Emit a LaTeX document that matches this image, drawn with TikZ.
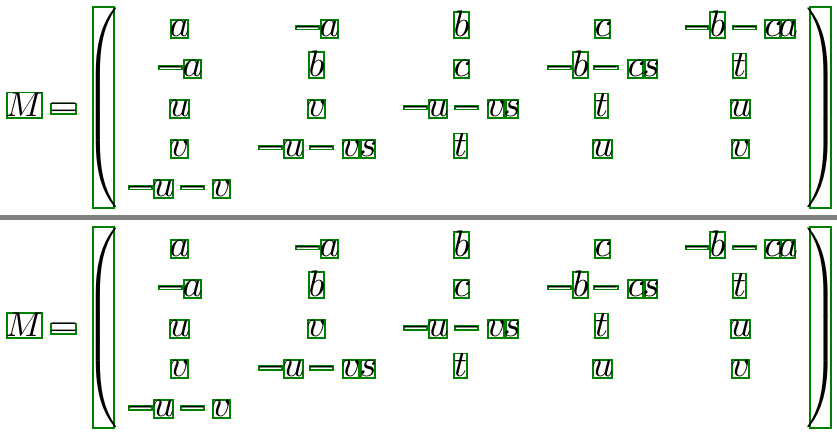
\documentclass[tikz,border=0pt]{standalone}
\usepackage{graphicx}
\definecolor{boxgreen}{RGB}{0,128,0}
\tikzset{
  gbox/.style={draw=boxgreen, line width=1.7pt, inner sep=0pt, outer sep=0pt},
  glyph/.style={inner sep=0pt, outer sep=0pt},
}
\newcommand\sg[1]{\scalebox{3.7}{$#1$}}
% name, x1, x2, top offset, bottom offset (from baseline \rb), glyph
\newcommand\gl[6]{%
  \node[gbox, minimum width={(#3-#2-1.7)*1pt}, minimum height={(#5-#4-1.7)*1pt}]
    (\p#1) at ({(#2+#3)/2},{\rb+(#4+#5)/2}) {};
  \node[glyph, anchor=base] (\p#1t) at ({(#2+#3)/2},{\rb}) {\sg{#6}};}
\newcommand\Lx[4]{\gl{#1}{#2}{#3}{-17.4}{2}{#4}}
\newcommand\Lb[4]{\gl{#1}{#2}{#3}{-25.4}{2}{#4}}
\newcommand\Lt[4]{\gl{#1}{#2}{#3}{-24}{2}{#4}}
\newcommand\Lm[3]{\gl{#1}{#2}{#3}{-11.7}{-6.2}{-}}
\newcommand\matbody{%
  \def\rb{116.7}
  \node[gbox, minimum width=35.3pt, minimum height=25.3pt] (\p M) at (24.5,105.3) {};
  \node[glyph, anchor=base] (\p Mt) at (24.3,116.7) {\scalebox{3.45}{$M$}};
  \gl{eq}{50}{77}{-14}{-2}{=}
  \node[gbox, minimum width=21.3pt, minimum height=201.3pt] (\p lp) at (103.5,107.5) {};
  \node[glyph] (\p lpg) at (103.5,107.5) {\sg{\left(\vcenter{\hrule height 5.8em width 0pt}\right.}};
  \node[gbox, minimum width=21.3pt, minimum height=201.3pt] (\p rp) at (820.5,107.5) {};
  \node[glyph] (\p rpg) at (820.5,107.5) {\sg{\left.\vcenter{\hrule height 5.8em width 0pt}\right)}};
  % row 1
  \def\rb{36.7}
  \Lx{r1c1a}{170}{189}{a}
  \Lm{r1c2m}{295}{320}\Lx{r1c2a}{320}{339}{a}
  \Lb{r1c3b}{453}{470}{b}
  \Lx{r1c4c}{594}{611}{c}
  \Lm{r1c5m}{685}{709}\Lb{r1c5b}{709}{726}{b}\Lm{r1c5n}{732}{757}
  \Lx{r1c5c}{764}{780.5}{c}\Lx{r1c5a}{780.5}{796}{a}
  % row 2
  \def\rb{76.7}
  \Lm{r2c1m}{158}{183}\Lx{r2c1a}{183}{202}{a}
  \Lb{r2c2b}{308}{325}{b}
  \Lx{r2c3c}{453}{470}{c}
  \Lm{r2c4m}{547}{572}\Lb{r2c4b}{572}{589}{b}\Lm{r2c4n}{593}{619}
  \Lx{r2c4c}{627}{644}{c}\Lx{r2c4s}{644}{658}{s}
  \Lt{r2c5t}{732}{747}{t}
  % row 3
  \def\rb{116.7}
  \Lx{r3c1u}{169}{190}{u}
  \Lx{r3c2v}{307}{326}{v}
  \Lm{r3c3m}{403}{428}\Lx{r3c3u}{428}{448}{u}\Lm{r3c3n}{454}{479}
  \Lx{r3c3v}{487}{505}{v}\Lx{r3c3s}{505}{519}{s}
  \Lt{r3c4t}{594}{609}{t}
  \Lx{r3c5u}{730}{751}{u}
  % row 4
  \def\rb{156.7}
  \Lx{r4c1v}{170}{189}{v}
  \Lm{r4c2m}{258}{283}\Lx{r4c2u}{283}{304}{u}\Lm{r4c2n}{309}{334}
  \Lx{r4c2v}{342}{360}{v}\Lx{r4c2s}{360}{376}{s}
  \Lt{r4c3t}{453}{468}{t}
  \Lx{r4c4u}{592}{613}{u}
  \Lx{r4c5v}{731}{750}{v}
  % row 5
  \def\rb{196.7}
  \Lm{r5c1m}{128}{153}\Lx{r5c1u}{153}{174}{u}\Lm{r5c1n}{180}{205}
  \Lx{r5c1v}{212}{231}{v}
}
\begin{document}
\begin{tikzpicture}[x=1pt,y=-1pt]
  \useasboundingbox (0,0) rectangle (837,435);
  \fill[white] (0,0) rectangle (837,435);
  \def\p{T}
  \matbody
  \fill[gray] (0,215) rectangle (837,220);
  \begin{scope}[shift={(0,220)}]
    \def\p{B}
    \matbody
  \end{scope}
\end{tikzpicture}
\end{document}
